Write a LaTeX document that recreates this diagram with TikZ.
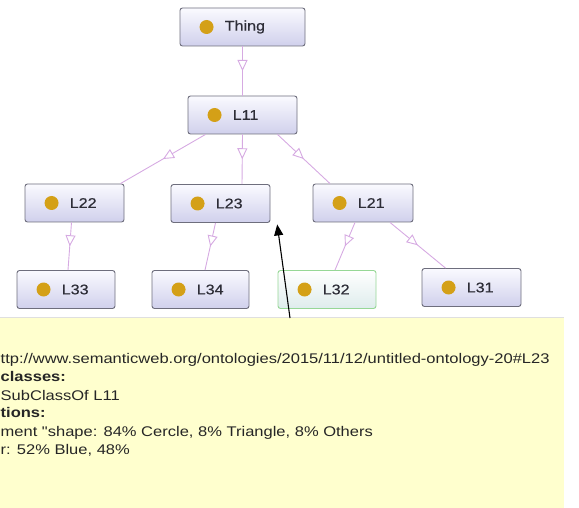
\documentclass[tikz,border=0pt]{standalone}
\usepackage{fontspec}
\setmainfont{Liberation Sans}
\newfontfamily\tipfont[FakeStretch=1.18]{Liberation Sans}
\newfontfamily\lblfont[FakeStretch=1.15,FakeBold=0.6]{Liberation Sans}
\usetikzlibrary{arrows.meta,decorations.markings}
\definecolor{dotc}{RGB}{212,160,23}
\definecolor{edgec}{RGB}{214,170,226}
\definecolor{boxtop}{RGB}{250,250,255}
\definecolor{boxbot}{RGB}{208,208,236}
\definecolor{tipbg}{RGB}{255,255,206}
\definecolor{labc}{RGB}{45,45,55}
\tikzset{
  clsbox/.style={rounded corners=2.5pt, draw={rgb,255:red,110;green,110;blue,125}, line width=0.9pt,
    top color=boxtop, bottom color=boxbot, minimum height=38pt, inner sep=0pt},
  greenbox/.style={clsbox, draw={rgb,255:red,150;green,215;blue,150}, top color=white, bottom color={rgb,255:red,222;green,236;blue,236}},
  clslbl/.style={anchor=west, inner sep=0pt, font=\lblfont\fontsize{14pt}{16pt}\selectfont, text=labc},
  isa/.style={draw=edgec, line width=0.9pt, postaction={decorate},
    decoration={markings, mark=at position 0.5 with {\arrow{Triangle[open, length=11pt, width=10pt, fill=white]}}}},
  tip/.style={anchor=base west, inner sep=0pt, font=\tipfont\fontsize{14pt}{16pt}\selectfont, text=black!85},
  tipbold/.style={tip, font=\tipfont\bfseries\fontsize{14pt}{16pt}\selectfont},
}
\newcommand{\clsnode}[6]{%
  \node[#1, minimum width=#5pt] (#2) at (#3,#4) {};
  \fill[dotc] ([xshift=27pt]#2.west) circle (7pt);
  \node[clslbl] (#2t) at ([xshift=45pt]#2.west) {#6};
}
\begin{document}
\begin{tikzpicture}[x=1pt,y=-1pt]
\useasboundingbox (0,0) rectangle (579,508);
\clip (0,0) rectangle (579,508);
% tooltip
\fill[tipbg] (-5,318) rectangle (564,515);
\draw[gray!25, line width=0.8pt] (0,317) -- (564,317);
\coordinate (tiptop) at (290,318);
\node[tip] (t1) at (0.5,363) {ttp://www.semanticweb.org/ontologies/2015/11/12/untitled-ontology-20\#L23};
\node[tipbold] (t2) at (0.5,381) {classes:};
\node[tip] (t3) at (0.5,400) {SubClassOf L11};
\node[tipbold] (t4) at (0.5,417) {tions:};
\node[tip] (t5) at (0.5,436) {ment "shape: 84\% Cercle, 8\% Triangle, 8\% Others};
\node[tip] (t6) at (0.5,454) {r: 52\% Blue, 48\%};
% classes
\clsnode{clsbox}{Thing}{242.5}{27}{125}{Thing}
\clsnode{clsbox}{L11}{242.5}{115}{109}{L11}
\clsnode{clsbox}{L22}{74.5}{203}{99}{L22}
\clsnode{clsbox}{L23}{220.5}{203.5}{99}{L23}
\clsnode{clsbox}{L21}{363}{203}{100}{L21}
\clsnode{clsbox}{L33}{66}{289.5}{98}{L33}
\clsnode{clsbox}{L34}{200.5}{289.5}{97}{L34}
\clsnode{greenbox}{L32}{327}{289.5}{98}{L32}
\clsnode{clsbox}{L31}{471.5}{287.5}{99}{L31}
% edges
\draw[isa] (Thing.south) -- (L11.north);
\draw[isa] ([xshift=-37pt]L11.south) -- ([xshift=46pt]L22.north);
\draw[isa] (L11.south) -- ([xshift=21.5pt]L23.north);
\draw[isa] ([xshift=35pt]L11.south) -- ([xshift=-33pt]L21.north);
\draw[isa] ([xshift=-3pt]L22.south) -- ([xshift=2pt]L33.north);
\draw[isa] ([xshift=-5pt]L23.south) -- ([xshift=4.5pt]L34.north);
\draw[isa] ([xshift=-8pt]L21.south) -- ([xshift=8pt]L32.north);
\draw[isa] ([xshift=27pt]L21.south) -- ([xshift=-26pt]L31.north);
% pointer
\draw[-{Triangle[length=11pt,width=9pt]}, line width=1.1pt, shorten >=1.5pt] (tiptop) -- ([xshift=56.5pt]L23.south);
\end{tikzpicture}
\end{document}
